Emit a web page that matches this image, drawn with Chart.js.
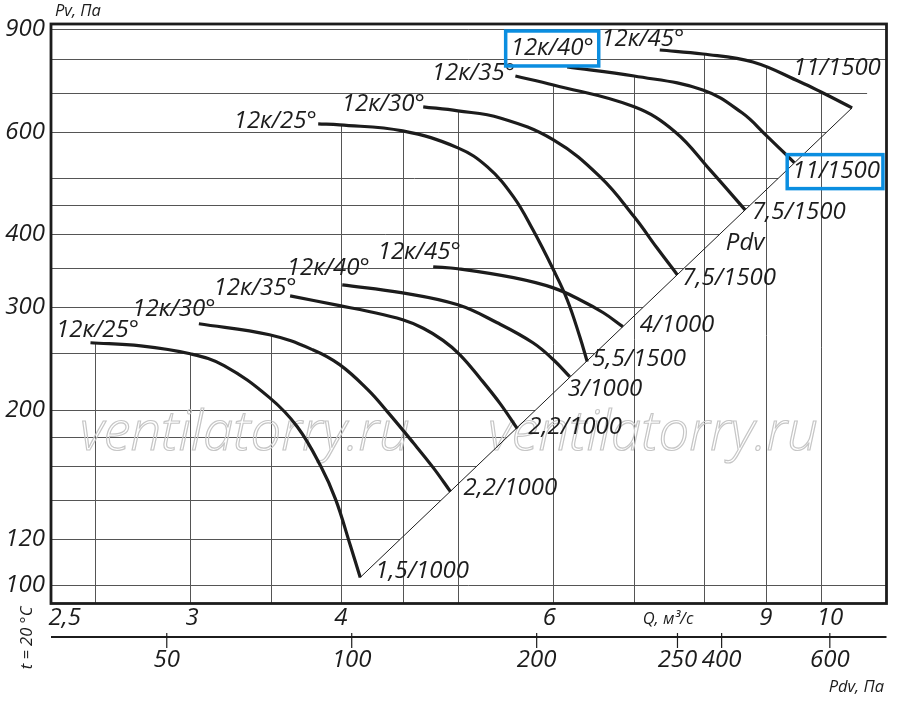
<!DOCTYPE html>
<html>
<head>
<meta charset="utf-8">
<script src="https://cdn.jsdelivr.net/npm/chart.js@4.4.1/dist/chart.umd.min.js"></script>
<style>
  html, body { margin: 0; padding: 0; background: #fff; }
  #wrap { width: 900px; height: 707px; position: relative; }
</style>
</head>
<body>
<div id="wrap"><canvas id="chart"></canvas></div>
<script>
// Q, m3/s (log) and Pv, Pa (log)
const qMin = 2.30, qMax = 11.33
const pvMin = 93.1, pvMax = 918
const qGrid = [2.5, 3, 3.5, 4, 4.5, 5, 6, 7, 8, 9, 10]
const qTicks = [2.5, 3, 4, 6, 9, 10]
const qTickLabels = ['2,5', '3', '4', '6', '9', '10']
const pvGrid = [100, 120, 140, 160, 180, 200, 250, 300, 350, 400, 450, 500, 600, 700, 800, 900]
const pvTicks = [100, 120, 200, 300, 400, 600, 900]

// dynamic pressure scale under the Q axis
const pdvMin = 32.4, pdvMax = 742
const pdvTicks = [50, 100, 200, 339, 400, 600]
const pdvTickLabels = ['50', '100', '200', '250', '400', '600']

// fan curves [Q, Pv], n = 1000 rpm group
const low25 = [[2.48, 260.7], [2.73, 257.6], [3.0, 249.6], [3.2, 238.2], [3.49, 209.9], [3.68, 187.1], [3.85, 159.9], [3.96, 140.3], [4.07, 117.5], [4.15, 103.2]]
const low30 = [[3.05, 281.0], [3.49, 269.1], [3.79, 253.6], [3.99, 239.1], [4.21, 216.6], [4.37, 198.6], [4.59, 175.8], [4.77, 159.2], [4.93, 144.8]]
const low35 = [[3.63, 313.7], [3.99, 301.8], [4.21, 295.3], [4.5, 285.5], [4.68, 276.1], [4.86, 263.2], [5.02, 248.6], [5.22, 226.2], [5.42, 205.0], [5.6, 185.7]]
const low40 = [[4.01, 327.7], [4.5, 317.5], [5.0, 302.9], [5.39, 282.1], [5.77, 260.7], [6.0, 243.8], [6.19, 228.0]]
const low45 = [[4.77, 352.0], [5.0, 349.2], [5.56, 337.1], [6.0, 323.8], [6.31, 309.0], [6.6, 293.5], [6.85, 277.8]]
// n = 1500 rpm group
const up25 = [[3.83, 618.7], [3.99, 616.3], [4.5, 601.9], [5.0, 562.9], [5.29, 522.1], [5.56, 463.9], [5.77, 407.2], [6.0, 347.8], [6.16, 309.0], [6.31, 267.0], [6.4, 242.0]]
const up30 = [[4.68, 661.9], [5.0, 651.5], [5.42, 633.5], [6.0, 580.9], [6.56, 501.9], [7.0, 428.7], [7.31, 379.3], [7.6, 341.1]]
const up35 = [[5.58, 747.7], [6.0, 721.6], [7.0, 661.9], [7.57, 599.5], [8.09, 516.0], [8.65, 440.7]]
const up40 = [[6.16, 774.7], [7.0, 747.7], [7.98, 707.6], [8.6, 646.4], [9.0, 592.0], [9.5, 531.0]]
const up45 = [[7.35, 828.5], [7.98, 815.5], [8.78, 790.2], [9.61, 730.2], [10.0, 701.9], [10.61, 659.3]]
// Pdv line through the curve ends
const pdvLine = [[4.15, 103.2], [10.61, 659.3]]
const pdvLabelAt = [8.65, 387]

const curves = [
	{data: low25, name: '12к/25°', nameAt: [7, -13], motor: '1,5/1000', motorAt: [15, -6]},
	{data: low30, name: '12к/30°', nameAt: [-25, -15], motor: '2,2/1000', motorAt: [13, -4]},
	{data: low35, name: '12к/35°', nameAt: [-35, -8], motor: '2,2/1000', motorAt: [11, -2]},
	{data: low40, name: '12к/40°', nameAt: [-14, -17], motor: '3/1000', motorAt: [-2, 12]},
	{data: low45, name: '12к/45°', nameAt: [-14, -15], motor: '4/1000', motorAt: [17, -2]},
	{data: up25, name: '12к/25°', nameAt: [-43, -3], motor: '5,5/1500', motorAt: [5, -2]},
	{data: up30, name: '12к/30°', nameAt: [-40, -3], motor: '7,5/1500', motorAt: [5, 3]},
	{data: up35, name: '12к/35°', nameAt: [-42, -3], motor: '7,5/1500', motorAt: [7, 2]},
	{data: up40, name: '12к/40°', nameAt: [-15, -19], motor: '11/1500', motorAt: [-2, 9], boxed: true},
	{data: up45, name: '12к/45°', nameAt: [-17, -11], motor: '11/1500', motorAt: [-59, -40]}
]

const INK = '#1c1c1c'
const FONT = '"Open Sans", "DejaVu Sans", sans-serif'
const qShift = [-30, 2, 0, -4, 0, 9]

function toXY(arr) {
	return arr.map(p => ({x: p[0], y: p[1]}))
}

function watermark(ctx, left, base, width) {
	ctx.save()
	ctx.font = 'italic 300 56px ' + FONT
	const w = ctx.measureText('ventilatorry.ru').width
	ctx.translate(left, base)
	ctx.scale(width / w, 1)
	ctx.strokeStyle = '#c6c6c6'
	ctx.lineWidth = 1.2
	ctx.strokeText('ventilatorry.ru', 0, 0)
	ctx.restore()
}

const paper = {
	id: 'paper',
	beforeDatasetsDraw(chart) {
		const {ctx, chartArea: a, scales: {x, y}} = chart
		const metas = curves.map((c, i) => chart.getDatasetMeta(i).data)
		const diag = chart.getDatasetMeta(curves.length).data
		const d0 = diag[0], d1 = diag[1]
		ctx.save()
		ctx.strokeStyle = '#555'
		ctx.lineWidth = 1
		// horizontal lines stop at the Pdv line
		pvGrid.forEach(v => {
			const py = Math.round(y.getPixelForValue(v)) + 0.5
			let end = a.right
			if (py < d0.y) end = Math.min(a.right, d0.x + (py - d0.y) * (d1.x - d0.x) / (d1.y - d0.y))
			ctx.beginPath()
			ctx.moveTo(a.left, py)
			ctx.lineTo(end, py)
			ctx.stroke()
		})
		// vertical lines start under the highest curve
		qGrid.forEach(v => {
			const px = Math.round(x.getPixelForValue(v)) + 0.5
			let top = a.bottom
			metas.forEach(pts => {
				for (let i = 0; i < pts.length - 1; i++) {
					const p = pts[i], q = pts[i + 1]
					if (px >= p.x && px <= q.x) {
						const t = (px - p.x) / (q.x - p.x)
						top = Math.min(top, p.y + t * (q.y - p.y))
					}
				}
			})
			if (top >= a.bottom) top = a.top
			ctx.beginPath()
			ctx.moveTo(px, top)
			ctx.lineTo(px, a.bottom)
			ctx.stroke()
		})
		ctx.restore()
		watermark(ctx, 80, 450, 330)
		watermark(ctx, 488, 450, 330)
	},
	afterDatasetsDraw(chart) {
		const {ctx, chartArea: a, scales: {x, y, pdv}} = chart
		ctx.save()
		ctx.strokeStyle = INK
		ctx.lineWidth = 2.8
		ctx.strokeRect(a.left, a.top, a.right - a.left, a.bottom - a.top)

		ctx.fillStyle = INK
		ctx.font = 'italic 24px ' + FONT
		ctx.textBaseline = 'middle'
		curves.forEach((c, i) => {
			const pts = chart.getDatasetMeta(i).data
			const s = pts[0], e = pts[pts.length - 1]
			ctx.textAlign = 'center'
			const nx = s.x + c.nameAt[0], ny = s.y + c.nameAt[1]
			ctx.fillText(c.name, nx, ny)
			ctx.textAlign = 'left'
			const mx = e.x + c.motorAt[0], my = e.y + c.motorAt[1]
			ctx.fillText(c.motor, mx, my)
			if (c.boxed) {
				ctx.save()
				ctx.strokeStyle = '#0b8ee0'
				ctx.lineWidth = 3.5
				const nw = ctx.measureText(c.name).width
				ctx.strokeRect(nx - nw / 2 - 5, ny - 17, nw + 10, 35)
				const mw = ctx.measureText(c.motor).width
				ctx.strokeRect(mx - 5, my - 17, mw + 8, 34)
				ctx.restore()
			}
		})
		ctx.textAlign = 'center'
		ctx.fillText('Pdv', x.getPixelForValue(pdvLabelAt[0]), y.getPixelForValue(pdvLabelAt[1]))

		// Pv ticks
		ctx.textAlign = 'right'
		pvTicks.forEach(v => ctx.fillText(String(v), a.left - 6, y.getPixelForValue(v)))
		// Q ticks
		ctx.textAlign = 'center'
		qTicks.forEach((v, i) => ctx.fillText(qTickLabels[i], x.getPixelForValue(v) + qShift[i], a.bottom + 15))

		// Pdv scale
		const ly = a.bottom + 33.5
		ctx.lineWidth = 2
		ctx.beginPath()
		ctx.moveTo(a.left, ly)
		ctx.lineTo(a.right, ly)
		ctx.stroke()
		ctx.lineWidth = 1.2
		pdvTicks.forEach((v, i) => {
			const px = pdv.getPixelForValue(v)
			ctx.beginPath()
			ctx.moveTo(px, ly - 4)
			ctx.lineTo(px, ly + 11)
			ctx.stroke()
			ctx.fillText(pdvTickLabels[i], px, ly + 23)
		})

		// axis titles
		ctx.font = 'italic 16.5px ' + FONT
		ctx.fillText('Q, м³/с', 668, a.bottom + 16)
		ctx.textAlign = 'left'
		ctx.fillText('Pv, Па', 55, 11)
		ctx.textAlign = 'right'
		ctx.fillText('Pdv, Па', 884, 687)
		ctx.save()
		ctx.translate(27, 638)
		ctx.rotate(-Math.PI / 2)
		ctx.textAlign = 'center'
		ctx.fillText('t = 20 °С', 0, 0)
		ctx.restore()
		ctx.restore()
	}
}

const datasets = curves.map(c => ({
	data: toXY(c.data),
	borderColor: INK,
	borderWidth: 3.2,
	tension: 0.4,
	pointRadius: 0,
	fill: false
}))
datasets.push({
	data: toXY(pdvLine),
	borderColor: INK,
	borderWidth: 1,
	pointRadius: 0,
	fill: false
})

new Chart(document.getElementById('chart'), {
	type: 'line',
	data: {datasets: datasets},
	options: {
		responsive: true,
		maintainAspectRatio: false,
		animation: false,
		layout: {padding: {left: 51, right: 13.5, top: 24, bottom: 103.5}},
		plugins: {legend: {display: false}, tooltip: {enabled: false}},
		scales: {
			x: {type: 'logarithmic', min: qMin, max: qMax, display: false},
			y: {type: 'logarithmic', min: pvMin, max: pvMax, display: false},
			pdv: {type: 'logarithmic', axis: 'x', position: 'bottom', min: pdvMin, max: pdvMax, display: false}
		}
	},
	plugins: [paper]
})
</script>
</body>
</html>
